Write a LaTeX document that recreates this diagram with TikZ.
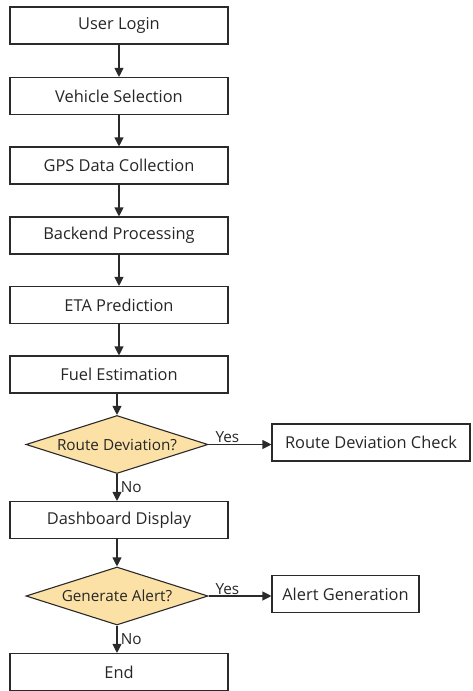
\documentclass[tikz,border=0pt]{standalone}
\usepackage{fontspec}
\setmainfont{Open Sans}
\usepackage{xcolor}
\usetikzlibrary{shapes.geometric,arrows.meta}
\definecolor{decfill}{HTML}{FBE1A6}
\definecolor{linegray}{HTML}{2A2A2A}

\begin{document}
\begin{tikzpicture}[x=1pt,y=-1pt,
  box/.style={draw=linegray,line width=1.1pt,minimum height=37pt,inner sep=0pt,font=\fontsize{16.4}{18}\selectfont,text=black!85},
  stepbox/.style={box,minimum width=218pt},
  decision/.style={diamond,aspect=3.2,draw=linegray,line width=1.1pt,fill=decfill,minimum width=182pt,minimum height=58pt,inner sep=0pt,font=\fontsize{15.3}{17}\selectfont,text=black!85},
  arr/.style={-{Triangle[length=9pt,width=9pt]},draw=linegray,line width=1.1pt},
  lbl/.style={font=\fontsize{15.3}{17}\selectfont,text=black!85}]
\useasboundingbox (0,0) rectangle (472,691);
\node[stepbox] (login) at (119,25.5) {User Login};
\node[stepbox] (vehicle) at (119,96) {Vehicle Selection};
\node[stepbox] (gps) at (119,165.5) {GPS Data Collection};
\node[stepbox] (backend) at (119,235.5) {Backend Processing};
\node[stepbox] (eta) at (119,305) {ETA Prediction};
\node[stepbox] (fuel) at (119,374.5) {Fuel Estimation};
\node[decision] (route) at (117,444.5) {Route Deviation?};
\node[box,minimum width=198pt] (check) at (371,442.5) {Route Deviation Check};
\node[stepbox] (dash) at (119,520) {Dashboard Display};
\node[decision] (alert) at (117,596) {Generate Alert?};
\node[box,minimum width=147pt] (gen) at (345.5,594) {Alert Generation};
\node[stepbox] (end) at (119,672) {End};
% main flow
\draw[arr] (login) -- (vehicle);
\draw[arr] (vehicle) -- (gps);
\draw[arr] (gps) -- (backend);
\draw[arr] (backend) -- (eta);
\draw[arr] (eta) -- (fuel);
\draw[arr] (fuel.south -| route.north) -- (route.north);
\draw[arr] (route.south) -- (route.south |- dash.north) node[midway,right,lbl]{No};
\draw[arr] (dash.south -| alert.north) -- (alert.north);
\draw[arr] (alert.south) -- (alert.south |- end.north) node[midway,right,lbl]{No};
% yes branches
\draw[arr] (route.east) -- (route.east -| check.west) node[pos=0.3,above,lbl,inner sep=1pt]{Yes};
\draw[arr] (alert.east) -- (alert.east -| gen.west) node[pos=0.3,above,lbl,inner sep=1pt]{Yes};
\end{tikzpicture}
\end{document}
